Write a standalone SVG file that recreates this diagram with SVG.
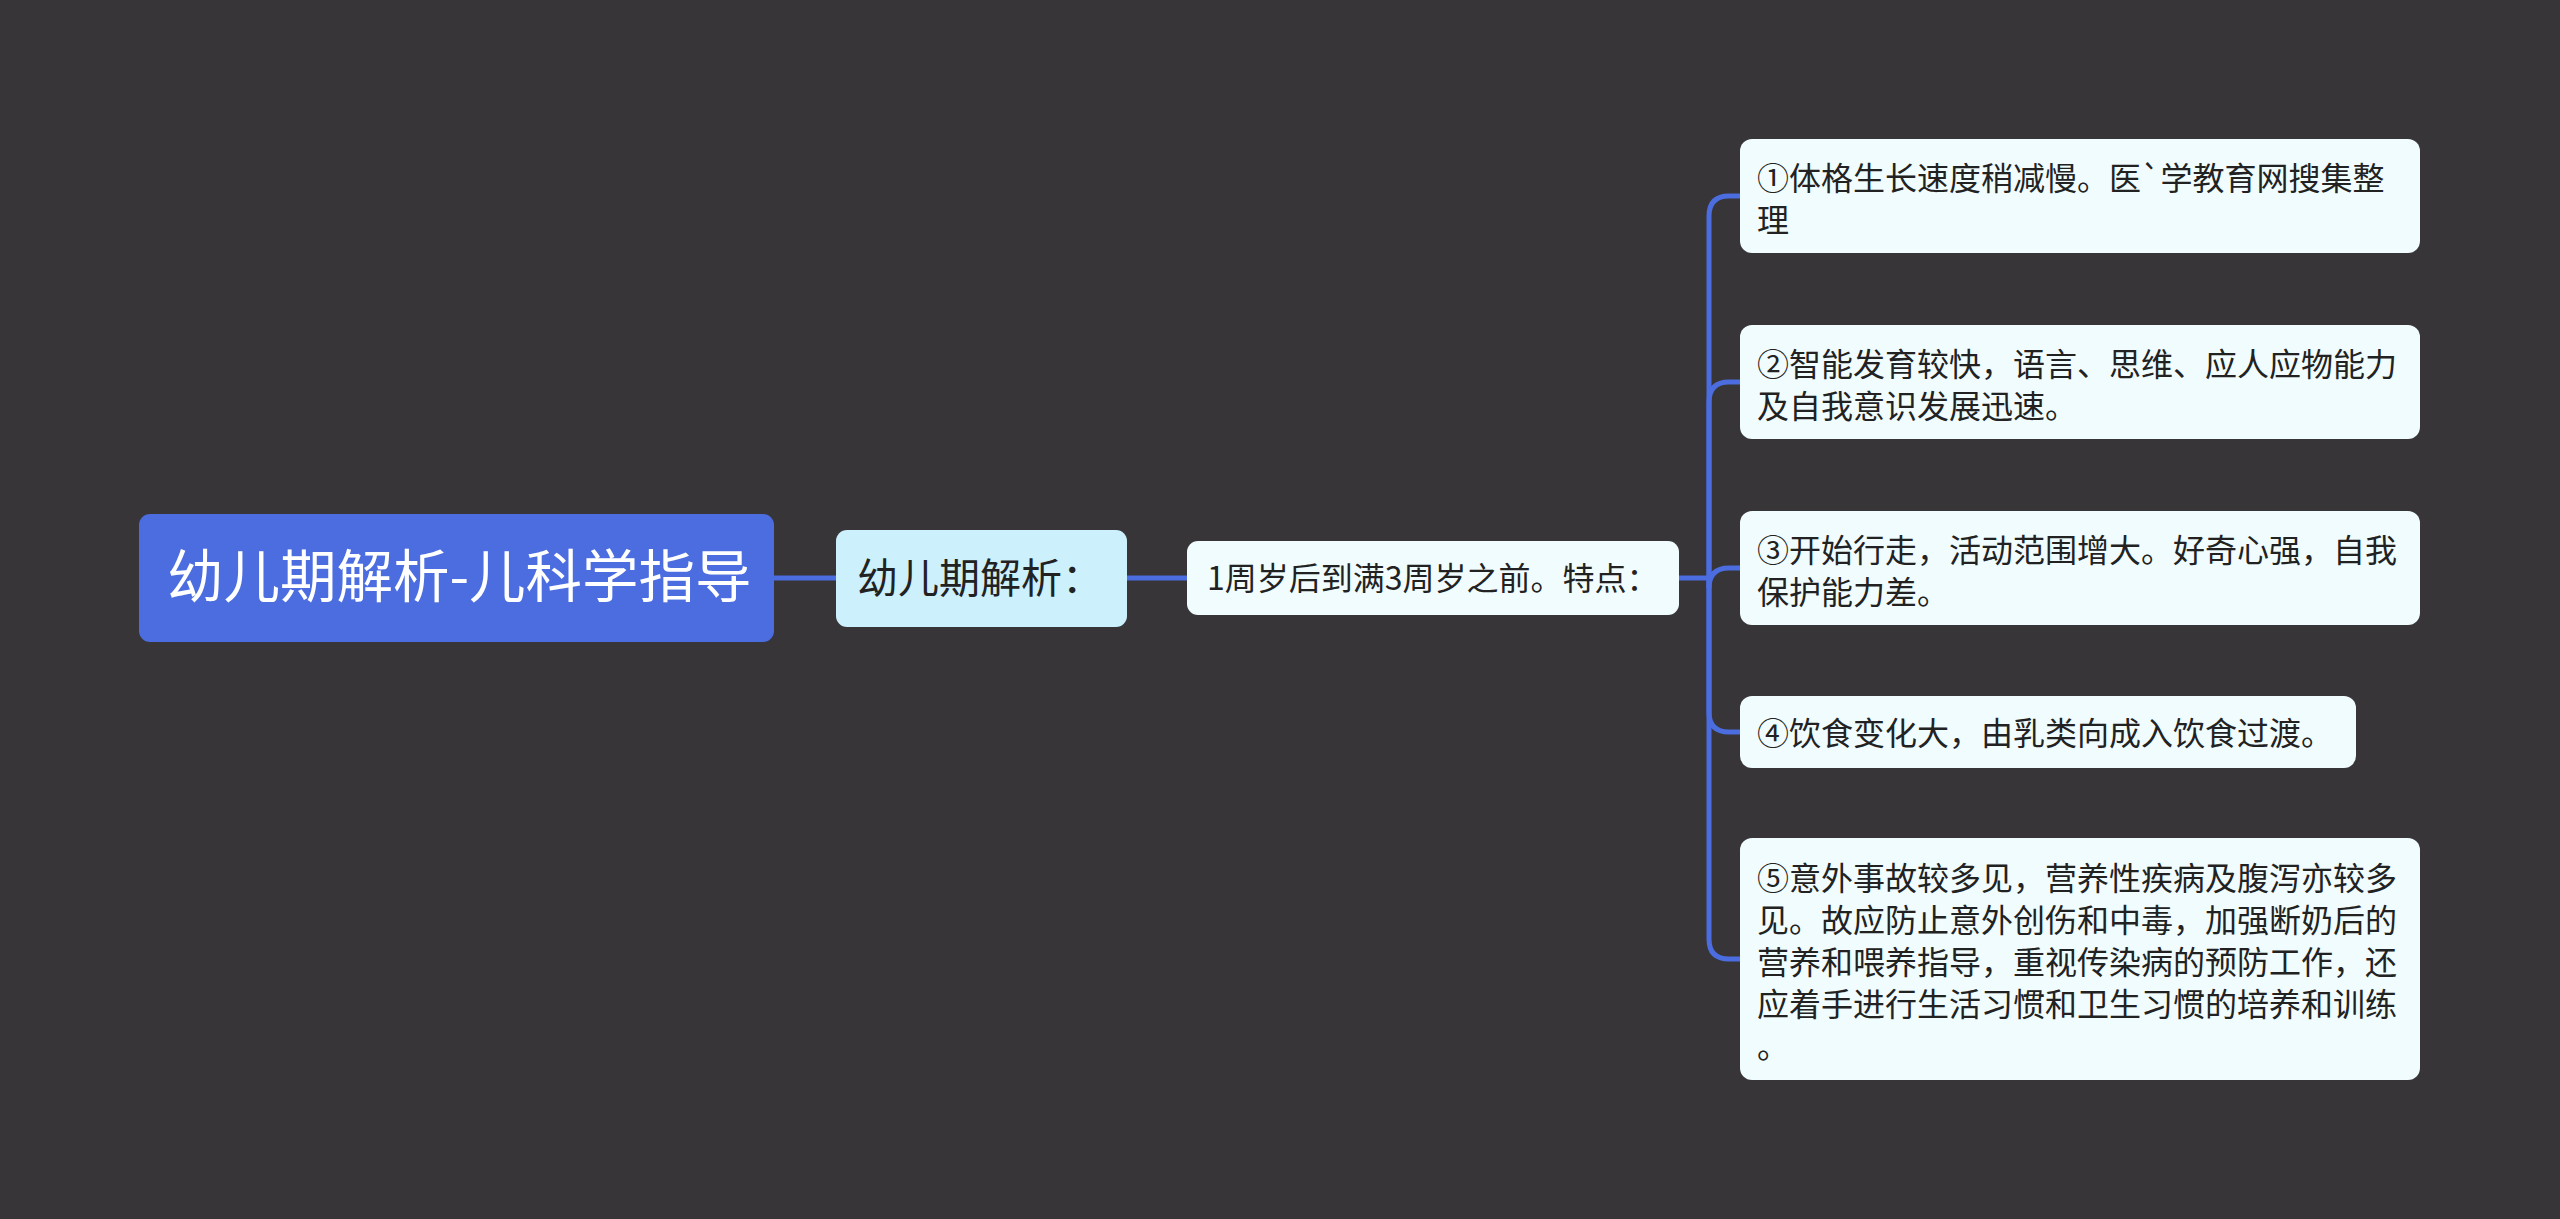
<svg xmlns="http://www.w3.org/2000/svg" width="2560" height="1219" viewBox="0 0 2560 1219">
<style>
.t{font-family:"Noto Sans CJK SC","Noto Sans",sans-serif;fill:#222}
.leaf{fill:#f0fcfd}
.ln{fill:none;stroke:#4b6de0;stroke-width:5}
</style>
<rect width="2560" height="1219" fill="#373537"/>
<g id="connectors">
<path class="ln" d="M774,578 H836"/>
<path class="ln" d="M1127,578 H1187"/>
<path class="ln" d="M1679,578 H1709"/>
<path class="ln" d="M1709,578 V216 Q1709,196 1729,196 H1740"/>
<path class="ln" d="M1709,578 V402 Q1709,382 1729,382 H1740"/>
<path class="ln" d="M1709,578 V588 Q1709,568 1729,568 H1740"/>
<path class="ln" d="M1709,578 V712 Q1709,732 1729,732 H1740"/>
<path class="ln" d="M1709,578 V939 Q1709,959 1729,959 H1740"/>
</g>
<g id="root">
<rect x="139" y="514" width="635" height="128" rx="11" fill="#4b6de0"/>
<text class="t" x="167" y="597" font-size="56.5" style="fill:#fff">幼儿期解析-儿科学指导</text>
</g>
<g id="n2">
<rect x="836" y="530" width="291" height="97" rx="11" fill="#ccf0fc"/>
<text class="t" x="857" y="593" font-size="41">幼儿期解析：</text>
</g>
<g id="n3">
<rect x="1187" y="541" width="492" height="74" rx="11" class="leaf"/>
<text class="t" x="1207" y="590" font-size="32">1周岁后到满3周岁之前。特点：</text>
</g>
<g id="leaf1">
<rect x="1740" y="139" width="680" height="114" rx="12" class="leaf"/>
<text class="t" font-size="32"><tspan x="1757" y="190">①体格生长速度稍减慢。医`学教育网搜集整</tspan><tspan x="1757" y="232">理</tspan></text>
</g>
<g id="leaf2">
<rect x="1740" y="325" width="680" height="114" rx="12" class="leaf"/>
<text class="t" font-size="32"><tspan x="1757" y="376">②智能发育较快，语言、思维、应人应物能力</tspan><tspan x="1757" y="418">及自我意识发展迅速。</tspan></text>
</g>
<g id="leaf3">
<rect x="1740" y="511" width="680" height="114" rx="12" class="leaf"/>
<text class="t" font-size="32"><tspan x="1757" y="562">③开始行走，活动范围增大。好奇心强，自我</tspan><tspan x="1757" y="604">保护能力差。</tspan></text>
</g>
<g id="leaf4">
<rect x="1740" y="696" width="616" height="72" rx="12" class="leaf"/>
<text class="t" x="1757" y="745" font-size="32">④饮食变化大，由乳类向成入饮食过渡。</text>
</g>
<g id="leaf5">
<rect x="1740" y="838" width="680" height="242" rx="12" class="leaf"/>
<text class="t" font-size="32"><tspan x="1757" y="890">⑤意外事故较多见，营养性疾病及腹泻亦较多</tspan><tspan x="1757" y="932">见。故应防止意外创伤和中毒，加强断奶后的</tspan><tspan x="1757" y="974">营养和喂养指导，重视传染病的预防工作，还</tspan><tspan x="1757" y="1016">应着手进行生活习惯和卫生习惯的培养和训练</tspan><tspan x="1757" y="1058">。</tspan></text>
</g>
</svg>
